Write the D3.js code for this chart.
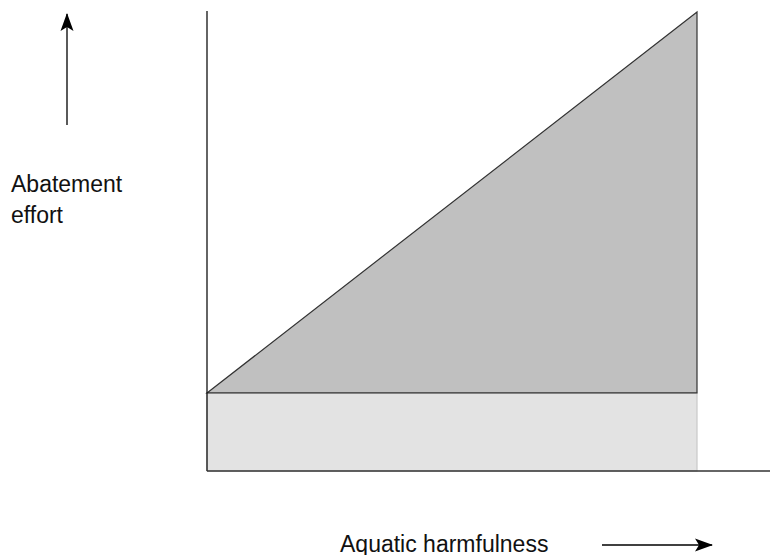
<!DOCTYPE html>
<html><head><meta charset="utf-8">
<script src="https://cdn.jsdelivr.net/npm/d3@7"></script>
<style>body{margin:0;background:#fff}svg{display:block}text{font-family:"Liberation Sans",Arial,sans-serif;fill:#111}</style>
</head><body>
<script>
// data (schematic, normalised units)
const harmfulness = [0, 1];
const baseEffort = [0.17, 0.17];
const totalEffort = [0.17, 1.0];
const yLabelLines = ["Abatement", "effort"];
const xLabel = "Aquatic harmfulness";

const W = 776, H = 555;
const svg = d3.select("body").append("svg").attr("width", W).attr("height", H);
const x = d3.scaleLinear().domain([0, 1]).range([207, 697]);
const y = d3.scaleLinear().domain([0, 1]).range([471, 12]);

// base rectangle
const baseArea = d3.area().x(d => x(d[0])).y0(y(0)).y1(d => y(d[1]));
svg.append("path").datum(harmfulness.map((h, i) => [h, baseEffort[i]]))
  .attr("d", baseArea).attr("fill", "#e3e3e3").attr("stroke", "#c8c8c8").attr("stroke-width", 1.2);

// triangle
const triArea = d3.area().x(d => x(d[0])).y0(d => y(d[1])).y1(d => y(d[2]));
svg.append("path")
  .attr("d", triArea(harmfulness.map((h, i) => [h, baseEffort[i], totalEffort[i]])) + "Z")
  .attr("fill", "#c0c0c0").attr("stroke", "#333").attr("stroke-width", 1.2).attr("stroke-linejoin", "miter");

// axes lines
svg.append("line").attr("x1", x(0)).attr("x2", x(0)).attr("y1", y(0)).attr("y2", y(1) - 1)
  .attr("stroke", "#111").attr("stroke-width", 1.3);
svg.append("line").attr("x1", x(0)).attr("x2", 770).attr("y1", y(0)).attr("y2", y(0))
  .attr("stroke", "#333").attr("stroke-width", 1.5);

// arrows
const defs = svg.append("defs");
defs.append("marker").attr("id", "ah").attr("viewBox", "0 0 18 14").attr("refX", 17).attr("refY", 7)
  .attr("markerWidth", 18).attr("markerHeight", 14).attr("markerUnits", "userSpaceOnUse").attr("orient", "auto")
  .append("path").attr("d", "M0,0.5 L18,7 L0,13.5 L4,7 Z").attr("fill", "#000");
svg.append("line").attr("x1", 67).attr("x2", 67).attr("y1", 125).attr("y2", 14)
  .attr("stroke", "#000").attr("stroke-width", 1.3).attr("marker-end", "url(#ah)");
svg.append("line").attr("x1", 602).attr("x2", 712).attr("y1", 545).attr("y2", 545)
  .attr("stroke", "#000").attr("stroke-width", 1.3).attr("marker-end", "url(#ah)");

// labels
svg.append("text").attr("x", 11).attr("y", 192).style("font-size", "23px").text(yLabelLines[0]);
svg.append("text").attr("x", 11).attr("y", 223).style("font-size", "23px").text(yLabelLines[1]);
svg.append("text").attr("x", 340).attr("y", 552).style("font-size", "23px").text(xLabel);
</script>
</body></html>
